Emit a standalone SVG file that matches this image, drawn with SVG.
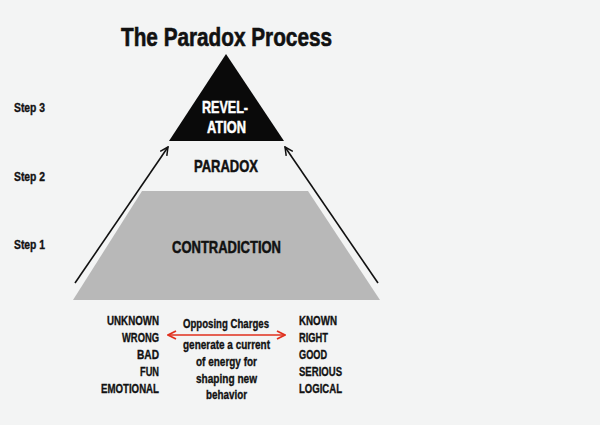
<svg xmlns="http://www.w3.org/2000/svg" width="600" height="425" viewBox="0 0 600 425">
<defs>
<style>
text{font-family:"Liberation Sans",Arial,sans-serif;font-weight:bold;fill:#111;stroke:#111;stroke-width:0.35px}
.t{font-size:25px;stroke-width:0.6px}
.n{font-size:16.5px;stroke-width:0.5px}
.w{fill:#fff;stroke:#fff}
.s{font-size:12px}
.b{font-size:13px}
.r{text-anchor:end}
.m{text-anchor:middle}
.c{font-size:13px}
</style>
<marker id="ah" viewBox="0 0 10 10" refX="9" refY="5" markerWidth="10" markerHeight="10" markerUnits="userSpaceOnUse" orient="auto-start-reverse">
<path d="M1,1 L9,5 L1,9" fill="none" stroke="#111" stroke-width="1.5"/>
</marker>
<marker id="rh" viewBox="0 0 10 10" refX="9" refY="5" markerWidth="10" markerHeight="10" markerUnits="userSpaceOnUse" orient="auto-start-reverse">
<path d="M1,1 L9,5 L1,9" fill="none" stroke="#e0301e" stroke-width="1.8"/>
</marker>
</defs>
<rect width="600" height="425" fill="#f3f4f4"/>
<text class="t m" x="226.5" y="46" textLength="211" lengthAdjust="spacingAndGlyphs">The Paradox Process</text>
<g id="steps">
<text class="s" x="14" y="112" textLength="31" lengthAdjust="spacingAndGlyphs">Step 3</text>
<text class="s" x="14" y="181" textLength="31" lengthAdjust="spacingAndGlyphs">Step 2</text>
<text class="s" x="14" y="249" textLength="31" lengthAdjust="spacingAndGlyphs">Step 1</text>
</g>
<g id="contradiction">
<polygon points="142,191 308,191 380,300 73,300" fill="#b8b8b8"/>
<text class="n m" x="226.5" y="253" textLength="109" lengthAdjust="spacingAndGlyphs">CONTRADICTION</text>
</g>
<g id="paradox">
<text class="n m" x="226" y="172" textLength="64" lengthAdjust="spacingAndGlyphs">PARADOX</text>
</g>
<g id="revelation">
<polygon points="226,54 284,141 169,141" fill="#0a0a0a"/>
<text class="n m w" x="225" y="113" textLength="46" lengthAdjust="spacingAndGlyphs">REVEL-</text>
<text class="n m w" x="226.5" y="133" textLength="39" lengthAdjust="spacingAndGlyphs">ATION</text>
</g>
<g id="connectors" fill="none">
<line x1="75" y1="283" x2="168" y2="147" stroke="#111" stroke-width="1.6" marker-end="url(#ah)"/>
<line x1="378" y1="283" x2="285" y2="147" stroke="#111" stroke-width="1.6" marker-end="url(#ah)"/>
<line x1="168" y1="335" x2="285" y2="335" stroke="#e0301e" stroke-width="1.6" marker-start="url(#rh)" marker-end="url(#rh)"/>
</g>
<g id="left-list">
<text class="b r" x="159" y="325" textLength="52" lengthAdjust="spacingAndGlyphs">UNKNOWN</text>
<text class="b r" x="159" y="342" textLength="37" lengthAdjust="spacingAndGlyphs">WRONG</text>
<text class="b r" x="159" y="359" textLength="22" lengthAdjust="spacingAndGlyphs">BAD</text>
<text class="b r" x="159" y="376" textLength="19" lengthAdjust="spacingAndGlyphs">FUN</text>
<text class="b r" x="159" y="393" textLength="58" lengthAdjust="spacingAndGlyphs">EMOTIONAL</text>
</g>
<g id="right-list">
<text class="b" x="299" y="325" textLength="38" lengthAdjust="spacingAndGlyphs">KNOWN</text>
<text class="b" x="299" y="342" textLength="29" lengthAdjust="spacingAndGlyphs">RIGHT</text>
<text class="b" x="299" y="359" textLength="28" lengthAdjust="spacingAndGlyphs">GOOD</text>
<text class="b" x="299" y="376" textLength="43" lengthAdjust="spacingAndGlyphs">SERIOUS</text>
<text class="b" x="299" y="393" textLength="43" lengthAdjust="spacingAndGlyphs">LOGICAL</text>
</g>
<g id="charges">
<text class="c m" x="226" y="328" textLength="86" lengthAdjust="spacingAndGlyphs">Opposing Charges</text>
<text class="c m" x="226.5" y="349" textLength="87" lengthAdjust="spacingAndGlyphs">generate a current</text>
<text class="c m" x="226.5" y="366" textLength="61" lengthAdjust="spacingAndGlyphs">of energy for</text>
<text class="c m" x="226.5" y="383" textLength="61" lengthAdjust="spacingAndGlyphs">shaping new</text>
<text class="c m" x="226.5" y="399" textLength="41" lengthAdjust="spacingAndGlyphs">behavior</text>
</g>
</svg>
